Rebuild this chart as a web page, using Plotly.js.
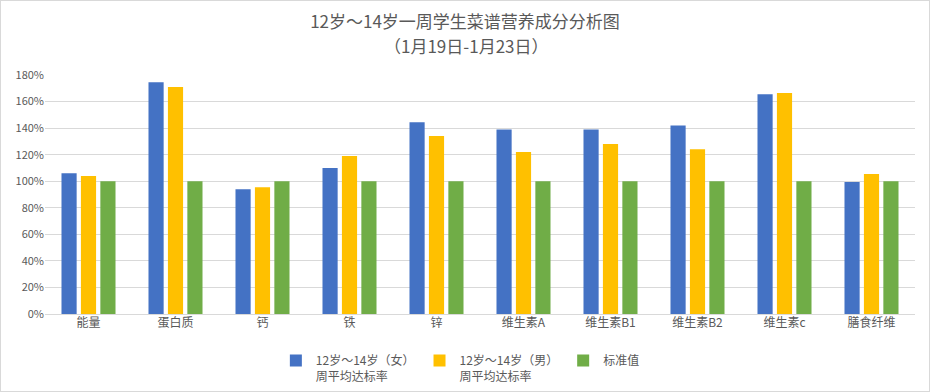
<!DOCTYPE html>
<html><head><meta charset="utf-8">
<script src="https://cdn.plot.ly/plotly-3.0.1.min.js"></script>
<style>html,body{margin:0;padding:0;background:#fff}#wrap{width:928px;height:390px;border:1px solid #d9d9d9;overflow:hidden}#chart{width:928px;height:390px}</style>
</head><body><div id="wrap"><div id="chart"></div></div>
<script>
const categories = ["能量","蛋白质","钙","铁","锌","维生素A","维生素B1","维生素B2","维生素c","膳食纤维"];
const girls = [1.06,1.745,0.94,1.10,1.445,1.39,1.39,1.42,1.655,0.995];
const boys  = [1.04,1.71,0.955,1.19,1.34,1.22,1.28,1.24,1.665,1.055];
const standard = [1,1,1,1,1,1,1,1,1,1];
const seriesNames = ["12岁～14岁（女）<br>周平均达标率","12岁～14岁（男）<br>周平均达标率","标准值"];
const tickVals = [0,0.2,0.4,0.6,0.8,1.0,1.2,1.4,1.6,1.8];
const tickText = ["0%","20%","40%","60%","80%","100%","120%","140%","160%","180%"];
const titleLine1 = "12岁～14岁一周学生菜谱营养成分分析图";
const titleLine2 = "（1月19日-1月23日）";
const colors = ["#4472C4","#FFC000","#70AD47"];
const font = "'Microsoft YaHei','Noto Sans CJK SC','Noto Sans',sans-serif";
const data = [girls, boys, standard].map((v,i)=>({
  type:'bar', x:categories, y:v, name:seriesNames[i], marker:{color:colors[i]}, hoverinfo:'none'
}));
const layout = {
  width:928, height:390,
  margin:{l:44, r:14, t:74, b:77},
  paper_bgcolor:'#fff', plot_bgcolor:'#fff',
  font:{family:font, color:'#595959', size:12},
  title:{text:titleLine1, x:0.5, xanchor:'center', xref:'container', yref:'container', y:1-21/390, yanchor:'middle', font:{size:17, color:'#595959', family:font}},
  annotations:[{text:titleLine2, xref:'paper', yref:'paper', x:(465-44)/870, y:1+(74-44)/239, xanchor:'center', yanchor:'middle', showarrow:false, font:{size:17, color:'#595959', family:font}}],
  bargap:0.33, bargroupgap:0.22, barmode:'group',
  xaxis:{type:'category', showgrid:false, zeroline:false, showline:false, ticks:'', tickfont:{size:12, color:'#595959'}},
  yaxis:{range:[0,1.8], tickvals:tickVals, ticktext:tickText, showgrid:true, gridcolor:'#d9d9d9', gridwidth:1, zeroline:true, zerolinecolor:'#d9d9d9', showline:false, ticks:'', tickfont:{size:11, color:'#595959'}},
  legend:{orientation:'h', xref:'container', yref:'container', x:0.495, xanchor:'center', y:0.115, yanchor:'top', valign:'top', font:{size:12, color:'#595959'}, itemwidth:30, tracegroupgap:0},
  showlegend:true
};
Plotly.newPlot('chart', data, layout, {staticPlot:true, displayModeBar:false});
</script></body></html>
